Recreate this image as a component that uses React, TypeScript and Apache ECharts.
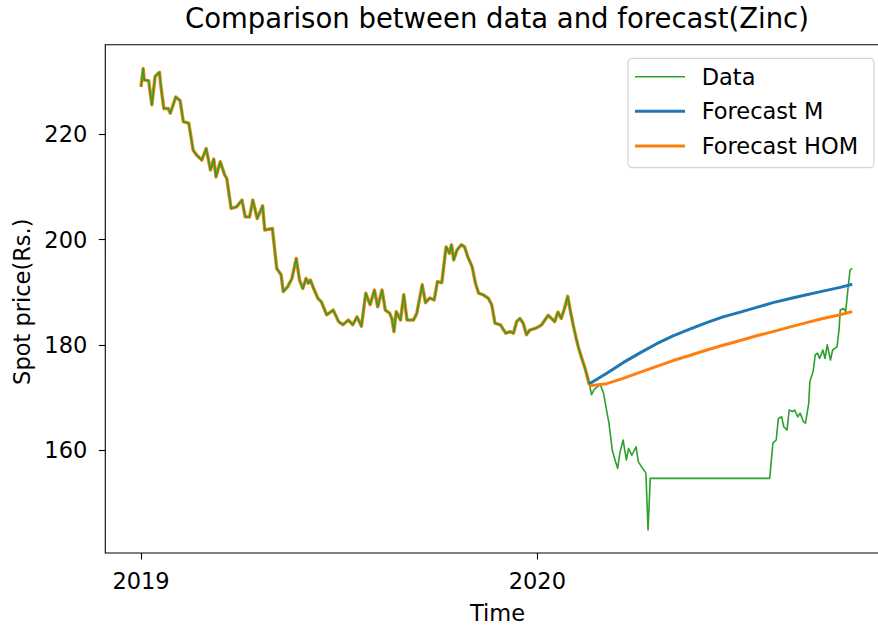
import React, { useEffect, useRef } from "react";
import * as echarts from "echarts";

// ---- Data ----
const dataDates: string[] = [
  "2019-01-01","2019-01-03","2019-01-04","2019-01-08","2019-01-11","2019-01-14","2019-01-18","2019-01-19",
  "2019-01-22","2019-01-26","2019-01-28","2019-02-02","2019-02-06","2019-02-09","2019-02-14","2019-02-18",
  "2019-02-21","2019-02-26","2019-03-02","2019-03-06","2019-03-09","2019-03-11","2019-03-15","2019-03-19",
  "2019-03-21","2019-03-25","2019-03-30","2019-04-04","2019-04-07","2019-04-11","2019-04-14","2019-04-18",
  "2019-04-23","2019-04-25","2019-05-02","2019-05-06","2019-05-10","2019-05-12","2019-05-16","2019-05-20",
  "2019-05-24","2019-05-27","2019-05-30","2019-06-02","2019-06-04","2019-06-06","2019-06-09","2019-06-13",
  "2019-06-16","2019-06-21","2019-06-27","2019-07-02","2019-07-06","2019-07-11","2019-07-15","2019-07-19",
  "2019-07-23","2019-07-27","2019-07-31","2019-08-04","2019-08-07","2019-08-11","2019-08-14","2019-08-18",
  "2019-08-20","2019-08-22","2019-08-24","2019-08-28","2019-08-31","2019-09-03","2019-09-09","2019-09-12",
  "2019-09-17","2019-09-20","2019-09-24","2019-09-28","2019-10-01","2019-10-05","2019-10-09","2019-10-12",
  "2019-10-14","2019-10-16","2019-10-19","2019-10-23","2019-10-26","2019-10-29","2019-11-02","2019-11-05",
  "2019-11-08","2019-11-12","2019-11-17","2019-11-20","2019-11-23","2019-11-28","2019-12-01","2019-12-03",
  "2019-12-07","2019-12-10","2019-12-13","2019-12-16","2019-12-19","2019-12-22","2019-12-25","2019-12-30",
  "2020-01-02","2020-01-05","2020-01-08","2020-01-11","2020-01-14","2020-01-17","2020-01-20","2020-01-23",
  "2020-01-26","2020-01-29","2020-01-31","2020-02-03","2020-02-06","2020-02-08","2020-02-11","2020-02-14",
  "2020-02-18",
  "2020-02-20","2020-02-22","2020-02-25","2020-02-28","2020-03-02","2020-03-05","2020-03-07","2020-03-10",
  "2020-03-13","2020-03-15","2020-03-17","2020-03-20","2020-03-23","2020-03-25","2020-03-28","2020-04-01",
  "2020-04-03","2020-04-06","2020-04-10","2020-04-12","2020-04-14","2020-08-02","2020-08-05","2020-08-08",
  "2020-08-10","2020-08-13","2020-08-15","2020-08-18","2020-08-20","2020-08-23","2020-08-25","2020-08-28",
  "2020-08-30","2020-09-02","2020-09-04","2020-09-07","2020-09-08","2020-09-11","2020-09-13","2020-09-15",
  "2020-09-17","2020-09-20","2020-09-22","2020-09-24","2020-09-27","2020-09-29","2020-10-01","2020-10-03",
  "2020-10-05","2020-10-06","2020-10-09","2020-10-11","2020-10-13","2020-10-15","2020-10-17",
];
const dataValues: number[] = [
  229.0,232.5,230.3,230.2,225.6,231.0,231.8,229.7,
  224.9,224.9,224.0,227.1,226.4,222.4,222.1,217.0,
  216.1,215.1,217.3,213.2,215.3,211.9,214.8,212.3,
  211.6,205.9,206.2,207.5,204.3,204.3,207.5,204.0,
  206.4,201.8,202.1,194.5,193.3,190.1,191.0,192.6,
  196.4,192.3,190.7,192.6,191.7,192.3,190.7,188.8,
  188.2,185.7,186.6,184.4,183.8,184.7,183.8,185.3,
  183.5,189.8,187.6,190.4,187.2,190.4,186.6,186.0,
  185.0,182.5,186.3,184.7,189.5,184.7,184.7,186.0,
  191.4,188.0,188.9,188.5,192.0,191.8,198.6,197.4,
  199.0,196.1,198.0,199.0,198.6,196.7,194.8,191.7,
  189.8,189.5,188.8,187.6,184.1,183.8,182.8,182.2,
  182.5,182.2,184.4,185.0,184.1,181.9,182.8,183.1,
  183.4,183.8,184.7,185.6,185.0,184.4,186.2,185.0,
  186.9,189.2,186.9,183.8,181.0,179.4,177.4,175.5,
  172.4,
  170.5,171.4,172.0,172.4,170.8,167.3,165.1,160.0,
  157.8,156.5,159.4,161.9,158.1,160.3,159.0,160.6,
  157.8,156.8,155.6,144.8,154.6,154.6,161.3,161.9,
  166.0,166.3,164.4,163.8,167.6,167.3,167.6,166.3,
  167.0,165.4,165.1,168.9,173.0,174.9,178.1,178.4,
  177.4,179.0,177.4,180.0,177.1,179.0,179.3,179.6,
  183.1,186.6,186.9,186.3,190.4,194.2,194.5,
];
const historyEnd = "2020-02-18";

const forecastDates: string[] = [
  "2020-02-18","2020-03-05","2020-03-20","2020-04-05","2020-04-20","2020-05-05","2020-05-21","2020-06-05",
  "2020-06-20","2020-07-06","2020-07-21","2020-08-05","2020-08-21","2020-09-05","2020-09-20","2020-10-06",
  "2020-10-17",
];
const forecastM: number[] = [
  172.6,174.6,176.6,178.5,180.2,181.7,183.0,184.2,
  185.3,186.2,187.1,188.0,188.8,189.5,190.2,190.9,
  191.5,
];
const forecastHOM: number[] = [
  172.2,172.6,173.6,174.8,175.9,177.0,178.0,179.0,
  179.9,180.8,181.7,182.5,183.4,184.2,185.0,185.7,
  186.3,
];

const xTickYears = ["2019-01-01", "2020-01-01"];
const yTicks = [160, 180, 200, 220];
const legendNames = ["Data", "Forecast M", "Forecast HOM"];
const legendColors = ["#2ca02c", "#1f77b4", "#ff7f0e"];
const legendWidths = [1.5, 3, 3];

const FONT = "DejaVu Sans";
const DAY = 86400000;
const ts = (s: string) => {
  const [y, m, d] = s.split("-").map(Number);
  return Date.UTC(y, m - 1, d);
};

export default function App() {
  const ref = useRef<HTMLDivElement>(null);
  useEffect(() => {
    if (!ref.current) return;
    const chart = echarts.init(ref.current, undefined, { renderer: "svg" });
    const all = dataDates.map((d, i) => [ts(d), dataValues[i]]);
    const hEnd = dataDates.indexOf(historyEnd);
    const hist = all.slice(0, hEnd + 1);
    const fM = forecastDates.map((d, i) => [ts(d), forecastM[i]]);
    const fH = forecastDates.map((d, i) => [ts(d), forecastHOM[i]]);
    const origin = ts("2019-01-01");

    const legendRowY = [76.7, 111.3, 146];
    const legendGraphics: any[] = [
      {
        type: "rect",
        shape: { x: 628, y: 58.3, width: 246, height: 109.4, r: 4 },
        style: { fill: "rgba(255,255,255,0.8)", stroke: "#cccccc", lineWidth: 1 },
        z: 100,
      },
    ];
    legendNames.forEach((n, i) => {
      legendGraphics.push({
        type: "line",
        shape: { x1: 635, y1: legendRowY[i], x2: 685, y2: legendRowY[i] },
        style: { stroke: legendColors[i], lineWidth: legendWidths[i] },
        z: 101,
      });
      legendGraphics.push({
        type: "text",
        x: 701.7,
        y: legendRowY[i],
        style: {
          text: n, fill: "#000", font: `22.5px "${FONT}"`,
          textAlign: "left", textVerticalAlign: "middle", align: "left", verticalAlign: "middle",
        },
        z: 101,
      });
    });

    chart.setOption({
      animation: false,
      grid: {
        left: 105.3, top: 44.7, right: 21.7, bottom: 73,
        show: true, borderColor: "#000", borderWidth: 1.1, backgroundColor: "transparent",
      },
      xAxis: {
        type: "value",
        min: origin - 32.88 * DAY,
        max: origin + 688.25 * DAY,
        splitLine: { show: false },
        axisLine: { show: false },
        axisTick: {
          show: true, length: 6.5, lineStyle: { color: "#000", width: 1.1 },
          customValues: xTickYears.map(ts),
        },
        axisLabel: {
          customValues: xTickYears.map(ts),
          formatter: (v: number) => String(new Date(v).getUTCFullYear()),
          fontFamily: FONT, fontSize: 22.5, color: "#000", margin: 16,
        },
      },
      yAxis: {
        type: "value",
        min: 140.42,
        max: 237.03,
        splitLine: { show: false },
        axisLine: { show: false },
        axisTick: {
          show: true, length: 6.5, lineStyle: { color: "#000", width: 1.1 },
          customValues: yTicks,
        },
        axisLabel: {
          customValues: yTicks,
          fontFamily: FONT, fontSize: 22.5, color: "#000", margin: 18,
        },
      },
      series: [
        {
          type: "line", name: "Forecast HOM fit", data: hist, symbol: "none", silent: true,
          lineStyle: { color: "#ff7f0e", width: 3.4, join: "round" },
        },
        {
          type: "line", name: "Data", data: all, symbol: "none", silent: true,
          lineStyle: { color: "#2ca02c", width: 1.6, join: "round" },
        },
        {
          type: "line", name: "Forecast M", data: fM, symbol: "none", silent: true,
          lineStyle: { color: "#1f77b4", width: 3, join: "round" },
        },
        {
          type: "line", name: "Forecast HOM", data: fH, symbol: "none", silent: true,
          lineStyle: { color: "#ff7f0e", width: 3, join: "round" },
        },
      ],
      graphic: [
        {
          type: "text", x: 497, y: 18,
          style: {
            text: "Comparison between data and forecast(Zinc)", fill: "#000", font: `27.5px "${FONT}"`,
            textAlign: "center", textVerticalAlign: "middle", align: "center", verticalAlign: "middle",
          },
        },
        {
          type: "text", x: 497.5, y: 613.3,
          style: {
            text: "Time", fill: "#000", font: `22.5px "${FONT}"`,
            textAlign: "center", textVerticalAlign: "middle", align: "center", verticalAlign: "middle",
          },
        },
        {
          type: "text", x: 22, y: 301.7, rotation: Math.PI / 2,
          style: {
            text: "Spot price(Rs.)", fill: "#000", font: `22.5px "${FONT}"`,
            textAlign: "center", textVerticalAlign: "middle", align: "center", verticalAlign: "middle",
          },
        },
        ...legendGraphics,
      ],
    });
    return () => chart.dispose();
  }, []);

  return (
    <div style={{ position: "fixed", left: 0, top: 0, width: 878, height: 626, overflow: "hidden", background: "#fff" }}>
      <div ref={ref} style={{ width: 910, height: 626 }} />
    </div>
  );
}
